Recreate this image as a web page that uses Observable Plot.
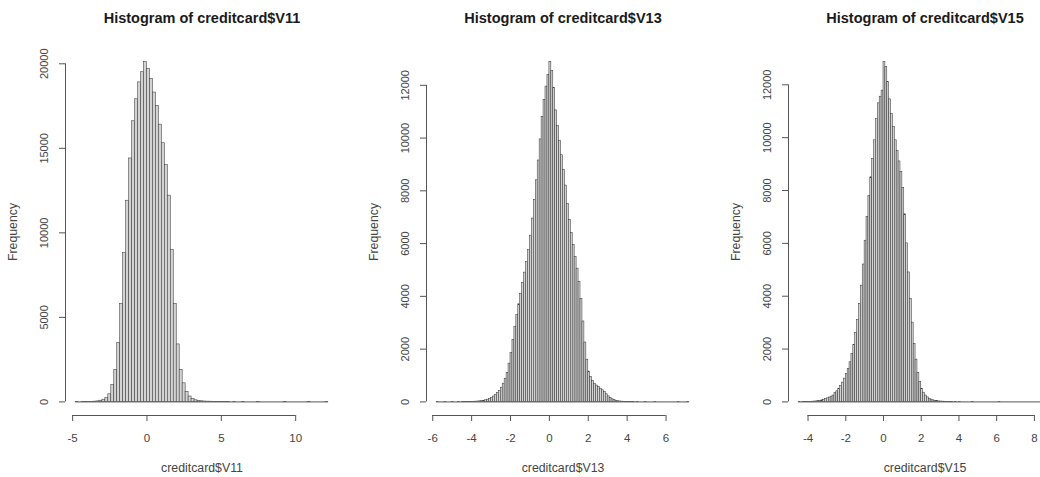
<!DOCTYPE html>
<html>
<head>
<meta charset="utf-8">
<script src="https://cdn.jsdelivr.net/npm/d3@7"></script>
<script src="https://cdn.jsdelivr.net/npm/@observablehq/plot@0.6"></script>
<style>
  html, body { margin: 0; padding: 0; background: #fff; overflow: hidden; }
  #wrap { position: relative; width: 1040px; height: 477px; overflow: hidden; background: #fff; }
  #wrap svg { position: absolute; top: 0; }
</style>
</head>
<body>
<div id="wrap"></div>
<script>
// ---- Data ----
// creditcard$V11 : breaks from -4.8 by 0.2
const v11Start = -4.8;
const v11Width = 0.2;
const v11Counts = [
  1, 0, 1, 2, 4, 8, 15, 30, 70, 130,
  220, 450, 1000, 1900, 3500, 5800, 8800, 11900, 14400, 16600,
  17900, 18900, 19500, 20100, 19700, 19100, 18300, 17500, 16400, 15300,
  14000, 12200, 9000, 5800, 3400, 1900, 1100, 600, 320, 170,
  95, 55, 35, 22, 15, 12, 8, 5, 3, 2,
  1, 1, 0, 1, 0, 0, 1, 0, 0, 0,
  0, 1, 0, 0, 0, 0, 0, 0, 0, 0,
  1, 0, 0, 0, 0, 0, 0, 0, 1, 0,
  0, 0, 0, 0, 1
];
const v11XTicks = [-5, 0, 5, 10];
const v11YTicks = [0, 5000, 10000, 15000, 20000];

// creditcard$V13 : breaks from -5.8 by 0.1
const v13Start = -5.8;
const v13Width = 0.1;
const v13Counts = [
  1, 0, 0, 0, 1, 0, 0, 0, 1, 0,
  0, 1, 0, 1, 2, 1, 3, 3, 5, 7,
  10, 15, 22, 32, 45, 62, 85, 115, 155, 205,
  265, 335, 420, 540, 690, 880, 1100, 1450, 1850, 2350,
  2850, 3300, 3700, 4100, 4500, 4900, 5300, 5750, 6300, 6950,
  7650, 8400, 9150, 9950, 10800, 11450, 11950, 12400, 12880, 12550,
  11900, 11050, 10450, 9900, 9350, 8800, 8200, 7500, 6900, 6400,
  5950, 5500, 5050, 4550, 3900, 3050, 2250, 1600, 1150, 950,
  800, 690, 620, 560, 500, 440, 370, 290, 210, 150,
  100, 65, 40, 25, 15, 9, 6, 4, 3, 2,
  1, 1, 0, 1, 0, 0, 0, 1, 0, 0,
  0, 0, 1, 0, 0, 0, 0, 0, 0, 0,
  0, 0, 0, 0, 1, 0, 0, 0, 0, 1
];
const v13XTicks = [-6, -4, -2, 0, 2, 4, 6];
const v13YTicks = [0, 2000, 4000, 6000, 8000, 10000, 12000];

// creditcard$V15 : breaks from -4.5 by 0.1
const v15Start = -4.5;
const v15Width = 0.1;
const v15Counts = [
  1, 0, 1, 1, 2, 3, 5, 8, 12, 18,
  28, 40, 58, 80, 105, 135, 165, 200, 240, 330,
  400, 490, 600, 730, 880, 1050, 1250, 1500, 1820, 2150,
  2600, 3100, 3700, 4400, 5200, 6100, 7000, 7800, 8500, 9200,
  9900, 10700, 11300, 11550, 11780, 12860, 12670, 12100, 11450, 10900,
  10400, 9900, 9500, 9100, 8700, 8100, 7100, 6000, 4900, 3900,
  3000, 2200, 1600, 1100, 750, 500, 350, 240, 170, 120,
  85, 60, 40, 28, 20, 14, 10, 7, 5, 3,
  2, 1, 0, 1, 0, 1, 0, 0, 0, 0,
  0, 0, 1, 0, 0, 0, 0, 0, 0, 0,
  0, 0, 0, 0, 0, 0, 1, 0, 0, 0,
  0, 0, 0, 0, 0, 0, 0, 0, 0, 0,
  0, 0, 0, 0, 0, 0, 0, 0, 0, 0,
  0, 0, 0, 1
];
const v15XTicks = [-4, -2, 0, 2, 4, 6, 8];
const v15YTicks = [0, 2000, 4000, 6000, 8000, 10000, 12000];

const panels = [
  {title: "Histogram of creditcard$V11", xLabel: "creditcard$V11", start: v11Start, width: v11Width, counts: v11Counts, xTicks: v11XTicks, yTicks: v11YTicks, left: 0},
  {title: "Histogram of creditcard$V13", xLabel: "creditcard$V13", start: v13Start, width: v13Width, counts: v13Counts, xTicks: v13XTicks, yTicks: v13YTicks, left: 361},
  {title: "Histogram of creditcard$V15", xLabel: "creditcard$V15", start: v15Start, width: v15Width, counts: v15Counts, xTicks: v15XTicks, yTicks: v15YTicks, left: 723}
];

const FONT = "'Liberation Sans', Arial, Helvetica, sans-serif";
const W = 361, H = 477, ML = 65, MR = 23, MT = 48, MB = 62;

function histPanel(p) {
  const n = p.counts.length;
  const bins = p.counts.map((c, i) => ({x1: p.start + i * p.width, x2: p.start + (i + 1) * p.width, count: c}));
  const lo = p.start, hi = p.start + n * p.width;
  const pad = 0.04 * (hi - lo);
  const ymax = d3.max(p.counts);
  const yLo = -0.04 * ymax, yHi = 1.04 * ymax;
  const xLo = lo - pad;
  const svg = Plot.plot({
    width: W, height: H,
    marginLeft: ML, marginRight: MR, marginTop: MT, marginBottom: MB,
    x: {domain: [xLo, hi + pad], axis: null},
    y: {domain: [yLo, yHi], axis: null},
    style: {fontFamily: FONT, fontSize: "11px", background: "transparent", overflow: "visible", color: "#333"},
    marks: [
      Plot.ruleY([0], {x1: lo, x2: hi, stroke: "#555", strokeWidth: 1}),
      Plot.rectY(bins, {x1: "x1", x2: "x2", y: "count", fill: "#d3d3d3", stroke: "#3a3a3a", strokeWidth: 0.55}),
      // x axis line (first to last tick)
      Plot.ruleY([yLo], {x1: p.xTicks[0], x2: p.xTicks[p.xTicks.length - 1], stroke: "#555"}),
      // y axis line
      Plot.ruleX([xLo], {y1: p.yTicks[0], y2: p.yTicks[p.yTicks.length - 1], stroke: "#555"}),
      Plot.axisX(p.xTicks, {tickSize: 6, tickPadding: 12, tickFormat: (d) => String(d), label: null, stroke: "#555", fill: "#444", fontSize: 11.5}),
      Plot.axisY(p.yTicks, {tickSize: 6, tickPadding: 12, tickRotate: -90, tickFormat: (d) => String(d), label: null, stroke: "#555", fill: "#444", fontSize: 11}),
      Plot.text([p.title], {frameAnchor: "top", lineAnchor: "middle", dy: -30, fontWeight: "bold", fontSize: 14.5, fill: "#1a1a1a"}),
      Plot.text([p.xLabel], {frameAnchor: "bottom", lineAnchor: "middle", dy: 53, fontSize: 12.3, fill: "#444"}),
      Plot.text(["Frequency"], {frameAnchor: "left", textAnchor: "middle", lineAnchor: "middle", rotate: -90, dx: -52, fontSize: 12.3, fill: "#444"})
    ]
  });
  svg.style.left = p.left + "px";
  return svg;
}

const wrap = document.getElementById("wrap");
for (const p of panels) wrap.appendChild(histPanel(p));
</script>
</body>
</html>
